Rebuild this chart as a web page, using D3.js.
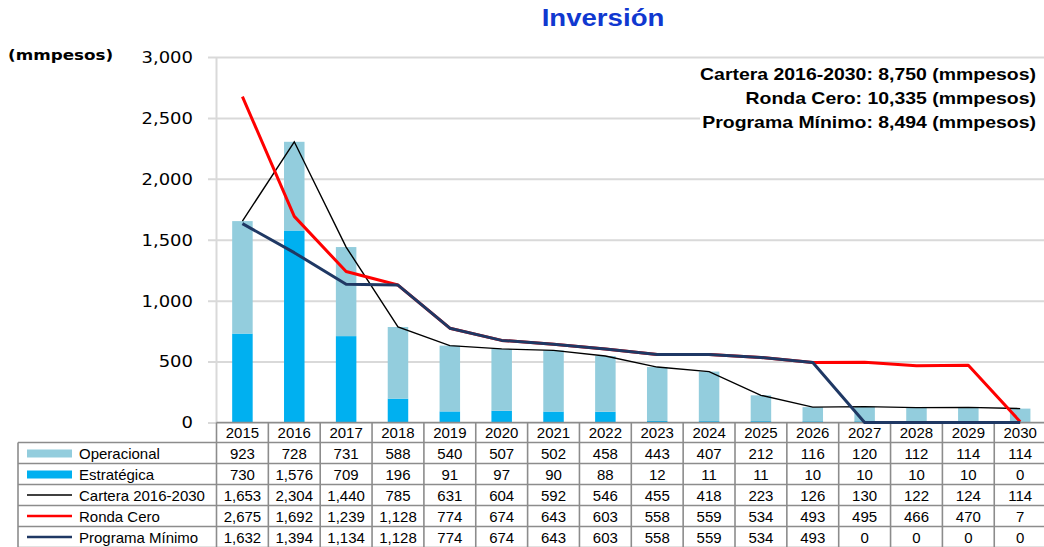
<!DOCTYPE html>
<html><head><meta charset="utf-8">
<script src="https://cdn.jsdelivr.net/npm/d3@7"></script>
<style>body{margin:0;background:#fff;} svg{display:block;}</style>
</head><body>
<svg id="chart" width="1044" height="547"></svg>
<script>
const years = ["2015","2016","2017","2018","2019","2020","2021","2022","2023","2024","2025","2026","2027","2028","2029","2030"];
const operacional = [923,728,731,588,540,507,502,458,443,407,212,116,120,112,114,114];
const estrategica = [730,1576,709,196,91,97,90,88,12,11,11,10,10,10,10,0];
const cartera = [1653,2304,1440,785,631,604,592,546,455,418,223,126,130,122,124,114];
const rondaCero = [2675,1692,1239,1128,774,674,643,603,558,559,534,493,495,466,470,7];
const programaMinimo = [1632,1394,1134,1128,774,674,643,603,558,559,534,493,0,0,0,0];
const yTicks = [0,500,1000,1500,2000,2500,3000];
const seriesNames = ["Operacional","Estratégica","Cartera 2016-2030","Ronda Cero","Programa Mínimo"];
const totals = ["Cartera 2016-2030: 8,750 (mmpesos)","Ronda Cero: 10,335 (mmpesos)","Programa Mínimo: 8,494 (mmpesos)"];

const W = 1044, H = 547;
const colW = 51.85, x0 = 216.5;
const C = {oper:"#93CDDD", estr:"#00B0F0", cart:"#000000", ronda:"#FF0000", prog:"#1F3864", grid:"#D9D9D9", border:"#8C8C8C"};

const svg = d3.select("#chart");
const x = d3.scaleBand().domain(years).range([x0, x0 + colW*years.length]).padding(0);
const y = d3.scaleLinear().domain([0,3000]).range([422.5, 57]);
const cx = yr => x(yr) + x.bandwidth()/2;
const fmt = d3.format(",");

function sText(sel, tx, ty, str, sx, anchor){
  return sel.append("text").attr("transform", `translate(${tx},${ty}) scale(${sx},1)`)
    .attr("text-anchor", anchor).text(str);
}

// title
sText(svg, 603, 26, "Inversión", 1.15, "middle")
  .attr("font-family","Liberation Sans, Arial, sans-serif").attr("font-weight","bold")
  .attr("font-size",24).attr("fill","#1038D0");

// unit label
sText(svg, 8, 60, "(mmpesos)", 1.2, "start")
  .attr("font-family","DejaVu Sans, sans-serif").attr("font-weight","bold")
  .attr("font-size",14).attr("fill","#000");

// gridlines + y axis labels
const gAxis = svg.append("g").attr("transform","translate(208,0)")
  .call(d3.axisLeft(y).tickValues(yTicks).tickSize(-(W-208)).tickPadding(0).tickFormat(fmt));
gAxis.select(".domain").remove();
gAxis.selectAll(".tick line").attr("stroke", C.grid).attr("stroke-width", 2);
gAxis.selectAll(".tick text").attr("x",0).attr("dy","0.36em")
  .attr("transform","translate(-15,0) scale(1.2,1)")
  .attr("font-family","DejaVu Sans, sans-serif").attr("font-size",15).attr("fill","#000");
svg.append("line").attr("x1",x0).attr("x2",x0).attr("y1",y(3000)).attr("y2",y(0))
  .attr("stroke",C.grid).attr("stroke-width",2);

// annotation box
svg.append("rect").attr("x",700).attr("y",63).attr("width",W-700).attr("height",70).attr("fill","#fff");
totals.forEach((t,i)=>{
  sText(svg, 1036, 80 + i*24, t, 1.215, "end")
    .attr("font-family","Liberation Sans, Arial, sans-serif").attr("font-weight","bold")
    .attr("font-size",16).attr("fill","#000");
});

// bars
const bw = 20.5;
const gb = svg.append("g");
years.forEach((yr,i)=>{
  const bx = cx(yr) - bw/2;
  gb.append("rect").attr("x",bx).attr("width",bw)
    .attr("y",y(estrategica[i])).attr("height",y(0)-y(estrategica[i])).attr("fill",C.estr);
  gb.append("rect").attr("x",bx).attr("width",bw)
    .attr("y",y(estrategica[i]+operacional[i])).attr("height",y(estrategica[i])-y(estrategica[i]+operacional[i])).attr("fill",C.oper);
});

// table
const gt = svg.append("g");
const rowTop = 442.5, rowH = 21, headTop = 422.5;
const tfont = g => g.attr("font-family","Liberation Sans, Arial, sans-serif").attr("font-size",15).attr("fill","#000");
// grid lines of table
gt.append("line").attr("x1",x0).attr("x2",W).attr("y1",headTop).attr("y2",headTop).attr("stroke",C.border).attr("stroke-width",1.6);
for(let i=0;i<=5;i++){
  gt.append("line").attr("x1",18).attr("x2",W).attr("y1",rowTop+i*rowH).attr("y2",rowTop+i*rowH).attr("stroke",C.border).attr("stroke-width",1.6);
}
gt.append("line").attr("x1",18).attr("x2",18).attr("y1",rowTop).attr("y2",H+2).attr("stroke",C.border).attr("stroke-width",1.6);
years.forEach((yr,i)=>{
  gt.append("line").attr("x1",x(yr)).attr("x2",x(yr)).attr("y1",headTop).attr("y2",H+2).attr("stroke",C.border).attr("stroke-width",1.6);
});
// header
years.forEach(yr=>{
  tfont(gt.append("text").attr("x",cx(yr)).attr("y",headTop+15.5).attr("text-anchor","middle").text(yr));
});
const rows = [operacional, estrategica, cartera, rondaCero, programaMinimo];
rows.forEach((vals,r)=>{
  vals.forEach((v,i)=>{
    tfont(gt.append("text").attr("x",cx(years[i])).attr("y",rowTop+r*rowH+16).attr("text-anchor","middle").text(fmt(v)));
  });
  tfont(gt.append("text").attr("x",79).attr("y",rowTop+r*rowH+16).text(seriesNames[r]));
});
// legend keys
const kx1 = 27, kx2 = 72;
gt.append("rect").attr("x",kx1).attr("y",rowTop+0*rowH+7).attr("width",kx2-kx1).attr("height",8).attr("fill",C.oper);
gt.append("rect").attr("x",kx1).attr("y",rowTop+1*rowH+7).attr("width",kx2-kx1).attr("height",8).attr("fill",C.estr);
[[C.cart,1.3],[C.ronda,2.6],[C.prog,2.6]].forEach(([c,w],k)=>{
  const yy = rowTop+(k+2)*rowH+rowH/2;
  gt.append("line").attr("x1",kx1).attr("x2",kx2).attr("y1",yy).attr("y2",yy).attr("stroke",c).attr("stroke-width",w);
});

// lines
const line = d3.line().x((d,i)=>cx(years[i])).y(d=>y(d));
svg.append("path").datum(cartera).attr("d",line).attr("fill","none").attr("stroke",C.cart).attr("stroke-width",1.4);
svg.append("path").datum(rondaCero).attr("d",line).attr("fill","none").attr("stroke",C.ronda).attr("stroke-width",3).attr("stroke-linejoin","round");
svg.append("path").datum(programaMinimo).attr("d",line).attr("fill","none").attr("stroke",C.prog).attr("stroke-width",3).attr("stroke-linejoin","round");
</script>
</body></html>
